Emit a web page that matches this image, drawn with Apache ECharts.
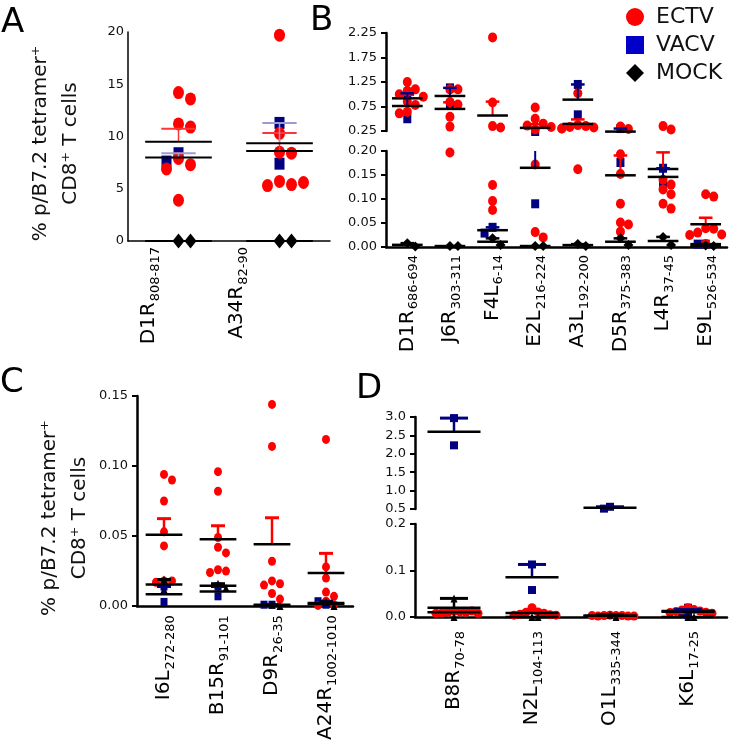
<!DOCTYPE html>
<html><head><meta charset="utf-8">
<script src="https://cdn.jsdelivr.net/npm/echarts@6/dist/echarts.min.js"></script>
<style>html,body{margin:0;padding:0;background:#fff}#c{width:732px;height:743px}</style>
</head><body><div id="c"></div>
<script>
// ---------------- DATA ----------------
const groupNames = ['ECTV', 'VACV', 'MOCK'];

// Panel A
const catsA = [['D1R', '808-817'], ['A34R', '82-90']];
const ectvA = [[14.2, 13.6, 11.2, 10.9, 7.9, 7.3, 6.9, 3.9], [19.7, 10.3, 8.5, 8.4, 5.7, 5.4, 5.3, 5.6]];
const vacvA = [[8.4, 7.6], [11.3, 7.4]];
const mockA = [[0, 0], [0, 0]];
const ticksA = [0, 5, 10, 15, 20];

// Panel B
const catsB = [['D1R', '686-694'], ['J6R', '303-311'], ['F4L', '6-14'], ['E2L', '216-224'], ['A3L', '192-200'], ['D5R', '375-383'], ['L4R', '37-45'], ['E9L', '526-534']];
const ectvB = [
  [1.25, 1.10, 1.07, 1.00, 0.95, 0.85, 0.78, 0.64, 0.61],
  [1.10, 1.10, 0.84, 0.79, 0.54, 0.34, 0.197],
  [2.16, 0.83, 0.35, 0.32, 0.129, 0.096, 0.077],
  [0.73, 0.50, 0.40, 0.36, 0.33, 0.28, 0.172, 0.031, 0.020],
  [1.02, 0.37, 0.35, 0.33, 0.32, 0.30, 0.30, 0.162],
  [0.34, 0.29, 0.193, 0.152, 0.090, 0.051, 0.047, 0.032],
  [0.35, 0.28, 0.140, 0.130, 0.120, 0.110, 0.090, 0.080],
  [0.110, 0.105, 0.039, 0.038, 0.030, 0.026, 0.025, 0.006]
];
const vacvB = [[1.02, 0.50], [1.13, 0.80], [0.041, 0.029], [0.24, 0.09], [1.20, 0.58], [0.30, 0.176], [0.164, 0.128], [0.006, 0.006]];
const mockB = [[0.008, 0.001], [0.002, 0.002], [0.018, 0.004], [0.002, 0.002], [0.006, 0.002], [0.018, 0.004], [0.021, 0.004], [0.003, 0.002]];
const ticksBUpper = [0.25, 0.75, 1.25, 1.75, 2.25];
const ticksBLower = [0, 0.05, 0.10, 0.15, 0.20];

// Panel C
const catsC = [['I6L', '272-280'], ['B15R', '91-101'], ['D9R', '26-35'], ['A24R', '1002-1010']];
const ectvC = [
  [0.094, 0.090, 0.075, 0.053, 0.043, 0.018, 0.018, 0.017],
  [0.096, 0.082, 0.049, 0.042, 0.038, 0.026, 0.025, 0.024],
  [0.144, 0.114, 0.032, 0.018, 0.016, 0.015, 0.009, 0.005],
  [0.119, 0.028, 0.020, 0.010, 0.007, 0.0035, 0.001, 0.0005]
];
const vacvC = [[0.014, 0.003], [0.014, 0.007], [0.001, 0.001], [0.001, 0.0035]];
const mockC = [[0.019, 0.012], [0.016, 0.013], [0.001, 0], [0.003, 0]];
const ticksC = [0, 0.05, 0.10, 0.15];

// Panel D
const catsD = [['B8R', '70-78'], ['N2L', '104-113'], ['O1L', '335-344'], ['K6L', '17-25']];
const ectvD = [
  [0.012, 0.011, 0.010, 0.010, 0.009, 0.013, 0.008, 0.008],
  [0.020, 0.011, 0.010, 0.008, 0.006, 0.005, 0.004, 0.004],
  [0.004, 0.003, 0.003, 0.003, 0.002, 0.002, 0.003, 0.002],
  [0.020, 0.016, 0.015, 0.013, 0.012, 0.010, 0.0095, 0.008]
];
const vacvD = [[2.97, 2.23], [0.113, 0.058], [0.56, 0.51], [0.020, 0.010, 0.004]];
const mockD = [[0.04, 0], [0, 0], [0.005, 0], [0, 0]];
const ticksDUpper = [0.5, 1.0, 1.5, 2.0, 2.5, 3.0];
const ticksDLower = [0, 0.1, 0.2];

// ---------------- LAYOUT / STYLE ----------------
const FONT = 'DejaVu Sans';
const COL = { ECTV: '#ff0000', VACV: '#000080', MOCK: '#000000' };
const yTitle = '% p/B7.2 tetramer\u207A\nCD8\u207A T cells';

const panels = [
  { cats: catsA, data: { ECTV: ectvA, VACV: vacvA, MOCK: mockA },
    left: 128, width: 202, segs: [{ top: 32, height: 209, ticks: ticksA, dec: 0 }],
    labelShift: [-0.29, -0.42], step: 12, maxK: 3,
    sym: { ECTV: ['circle', [11, 13]], VACV: ['rect', [10, 12]], MOCK: ['diamond', [12, 15]] },
    meanHalf: 0.33, capHalf: 0.17, meanW: 2, errW: 1.5,
    semCol: { ECTV: '#ff3333', VACV: '#9c9cd2', MOCK: '#000' },
    axisW: 1.5, tickLen: 0, labelMargin: 6, title: true, titlePad: 14 },
  { cats: catsB, data: { ECTV: ectvB, VACV: vacvB, MOCK: mockB },
    left: 386, width: 341, segs: [{ top: 33, height: 98, ticks: ticksBUpper, dec: 2 }, { top: 151, height: 96, ticks: ticksBLower, dec: 2 }],
    labelShift: null, step: 8, maxK: 2,
    sym: { ECTV: ['circle', [9, 10]], VACV: ['rect', [8, 9]], MOCK: ['diamond', [10, 10]] },
    meanHalf: 0.36, capHalf: 0.16, meanW: 2.5, errW: 2,
    semCol: { ECTV: '#ff0000', VACV: '#000080', MOCK: '#000' },
    axisW: 2.5, tickLen: 5, labelMargin: 8, title: false },
  { cats: catsC, data: { ECTV: ectvC, VACV: vacvC, MOCK: mockC },
    left: 137, width: 216, segs: [{ top: 396, height: 212, ticks: ticksC, dec: 2 }],
    labelShift: null, step: 8, maxK: 3,
    sym: { ECTV: ['circle', [8, 9]], VACV: ['rect', [7, 8]], MOCK: ['triangle', [7, 8]] },
    meanHalf: 0.34, capHalf: 0.13, meanW: 2.5, errW: 2.5,
    semCol: { ECTV: '#ff0000', VACV: '#000080', MOCK: '#000' },
    axisW: 2.5, tickLen: 5, labelMargin: 9, title: true, titlePad: 34 },
  { cats: catsD, data: { ECTV: ectvD, VACV: vacvD, MOCK: mockD },
    left: 415, width: 312, segs: [{ top: 417, height: 92, ticks: ticksDUpper, dec: 1 }, { top: 524, height: 93, ticks: ticksDLower, dec: 1 }],
    labelShift: null, step: 6, maxK: 4,
    sym: { ECTV: ['circle', [9, 9]], VACV: ['rect', [8, 8]], MOCK: ['triangle', [7, 8]] },
    meanHalf: 0.34, capHalf: 0.18, meanW: 2.5, errW: 2.5,
    semCol: { ECTV: '#ff0000', VACV: '#000080', MOCK: '#000' },
    axisW: 2.5, tickLen: 5, labelMargin: 14, title: false }
];

// ---------------- helpers ----------------
function mean(a) { return a.reduce((s, x) => s + x, 0) / a.length; }
function sem(a) {
  if (a.length < 2) return 0;
  const m = mean(a);
  const v = a.reduce((s, x) => s + (x - m) * (x - m), 0) / (a.length - 1);
  return Math.sqrt(v / a.length);
}
function segIndex(p, v) {
  if (p.segs.length === 1) return 0;
  const split = (p.segs[0].ticks[0] + p.segs[1].ticks[p.segs[1].ticks.length - 1]) / 2;
  return v >= split ? 0 : 1;
}
function pixY(seg, v) {
  const mn = seg.ticks[0], mx = seg.ticks[seg.ticks.length - 1];
  return seg.top + seg.height * (mx - v) / (mx - mn);
}

const grids = [], xAxes = [], yAxes = [], series = [];
let gi = 0;

panels.forEach((p) => {
  const n = p.cats.length;
  const cw = p.width / n;
  // beeswarm jitter computed within each group of each category
  const pts = {};
  p.segs.forEach((s, si) => { pts[si] = { ECTV: [], VACV: [], MOCK: [] }; });
  for (let i = 0; i < n; i++) {
    groupNames.forEach((g) => {
      const placed = [];
      const h = p.sym[g][1][1];
      const order = [0];
      for (let k = 1; k <= p.maxK; k++) { if (g === 'VACV') order.push(-k, k); else order.push(k, -k); }
      p.data[g][i].forEach((v) => {
        const si = segIndex(p, v);
        const py = pixY(p.segs[si], v);
        let chosen = 0;
        for (const k of order) {
          const px = k * p.step;
          const hit = placed.some((q) => Math.abs(q.x - px) < p.step * 0.9 && Math.abs(q.y - py) < h * 0.85);
          chosen = k;
          if (!hit) break;
        }
        placed.push({ x: chosen * p.step, y: py });
        pts[si][g].push([i + chosen * p.step / cw, v]);
      });
    });
  }

  p.segs.forEach((s, si) => {
    const isBottom = si === p.segs.length - 1;
    const mn = s.ticks[0], mx = s.ticks[s.ticks.length - 1];
    grids.push({ left: p.left, top: s.top, width: p.width, height: s.height, containLabel: false });
    const labelPos = p.cats.map((c, i) => i + (p.labelShift ? p.labelShift[i] : 0));
    xAxes.push({
      gridIndex: gi, type: 'value', min: -0.5, max: n - 0.5, show: isBottom,
      axisLine: { show: true, onZero: false, lineStyle: { color: '#000', width: p.axisW } },
      axisTick: { show: false }, splitLine: { show: false },
      axisLabel: {
        show: true, customValues: labelPos, rotate: 90, margin: p.labelMargin,
        formatter: (v) => {
          let best = 0;
          labelPos.forEach((lp, k) => { if (Math.abs(lp - v) < Math.abs(labelPos[best] - v)) best = k; });
          return '{m|' + p.cats[best][0] + '}{s|' + p.cats[best][1] + '}';
        },
        rich: {
          m: { fontSize: 20, fontFamily: FONT, color: '#000', lineHeight: 26, verticalAlign: 'middle' },
          s: { fontSize: 13, fontFamily: FONT, color: '#000', lineHeight: 26, verticalAlign: 'bottom', padding: [0, 0, 0, 1] }
        }
      }
    });
    const ya = {
      gridIndex: gi, type: 'value', min: mn, max: mx, interval: s.ticks[1] - s.ticks[0],
      axisLine: { show: true, onZero: false, lineStyle: { color: '#000', width: p.axisW } },
      axisTick: { show: p.tickLen > 0, length: p.tickLen, lineStyle: { color: '#000', width: 2 } },
      splitLine: { show: false },
      axisLabel: { fontSize: 13, fontFamily: FONT, color: '#111', margin: p.tickLen + 4, formatter: (v) => v.toFixed(s.dec) }
    };
    if (p.title) {
      Object.assign(ya, {
        name: yTitle, nameLocation: 'middle', nameGap: 42, nameRotate: 90,
        nameTextStyle: { fontSize: 20, fontFamily: FONT, color: '#111', lineHeight: 30, padding: [0, p.titlePad, 0, 0] }
      });
    }
    yAxes.push(ya);

    ['VACV', 'ECTV', 'MOCK'].forEach((g) => {
      series.push({
        type: 'scatter', name: g, xAxisIndex: gi, yAxisIndex: gi, clip: false,
        symbol: p.sym[g][0], symbolSize: p.sym[g][1],
        itemStyle: { color: COL[g], opacity: 1 }, z: 3,
        data: pts[si][g]
      });
    });

    // mean + SEM (computed from the points)
    groupNames.forEach((g) => {
      const stats = [];
      p.data[g].forEach((arr, i) => {
        const m = mean(arr);
        if (segIndex(p, m) === si) stats.push([i, m, m + sem(arr)]);
      });
      const col = p.semCol[g];
      series.push({
        type: 'custom', name: g + ' mean', xAxisIndex: gi, yAxisIndex: gi, clip: false, z: 5,
        data: stats, encode: { x: 0, y: 1 },
        renderItem: (params, api) => {
          const i = api.value(0), m = api.value(1), t = api.value(2);
          const a = api.coord([i - p.meanHalf, m]), b = api.coord([i + p.meanHalf, m]);
          const ch = [];
          if (t > m + 1e-9) {
            const tt = Math.min(t, mx);
            const c0 = api.coord([i, m]), c1 = api.coord([i, tt]);
            ch.push({ type: 'line', shape: { x1: c0[0], y1: c0[1], x2: c1[0], y2: c1[1] }, style: { stroke: col, lineWidth: p.errW } });
            if (t <= mx) {
              const d0 = api.coord([i - p.capHalf, t]), d1 = api.coord([i + p.capHalf, t]);
              ch.push({ type: 'line', shape: { x1: d0[0], y1: d0[1], x2: d1[0], y2: d1[1] }, style: { stroke: col, lineWidth: p.errW + 0.5 } });
            }
          }
          ch.push({ type: 'line', shape: { x1: a[0], y1: a[1], x2: b[0], y2: b[1] }, style: { stroke: '#000', lineWidth: p.meanW } });
          return { type: 'group', children: ch };
        }
      });
    });
    gi++;
  });
});

const chart = echarts.init(document.getElementById('c'));
chart.setOption({
  animation: false,
  backgroundColor: '#fff',
  grid: grids, xAxis: xAxes, yAxis: yAxes, series: series,
  legend: {
    left: 621, top: 1, orient: 'vertical', itemGap: 6, itemWidth: 18, itemHeight: 18, selectedMode: false,
    textStyle: { fontSize: 22, fontFamily: FONT, color: '#111', padding: [0, 0, 0, 7] },
    data: [
      { name: 'ECTV', icon: 'circle' },
      { name: 'VACV', icon: 'rect', itemStyle: { color: '#0000c8' } },
      { name: 'MOCK', icon: 'diamond' }
    ]
  },
  graphic: [
    { type: 'text', left: 1, top: 6, style: { text: 'A', fontSize: 34, fontFamily: FONT, fill: '#000' } },
    { type: 'text', left: 310, top: 4, style: { text: 'B', fontSize: 34, fontFamily: FONT, fill: '#000' } },
    { type: 'text', left: 0, top: 366, style: { text: 'C', fontSize: 34, fontFamily: FONT, fill: '#000' } },
    { type: 'text', left: 356, top: 372, style: { text: 'D', fontSize: 34, fontFamily: FONT, fill: '#000' } }
  ]
});
</script></body></html>
